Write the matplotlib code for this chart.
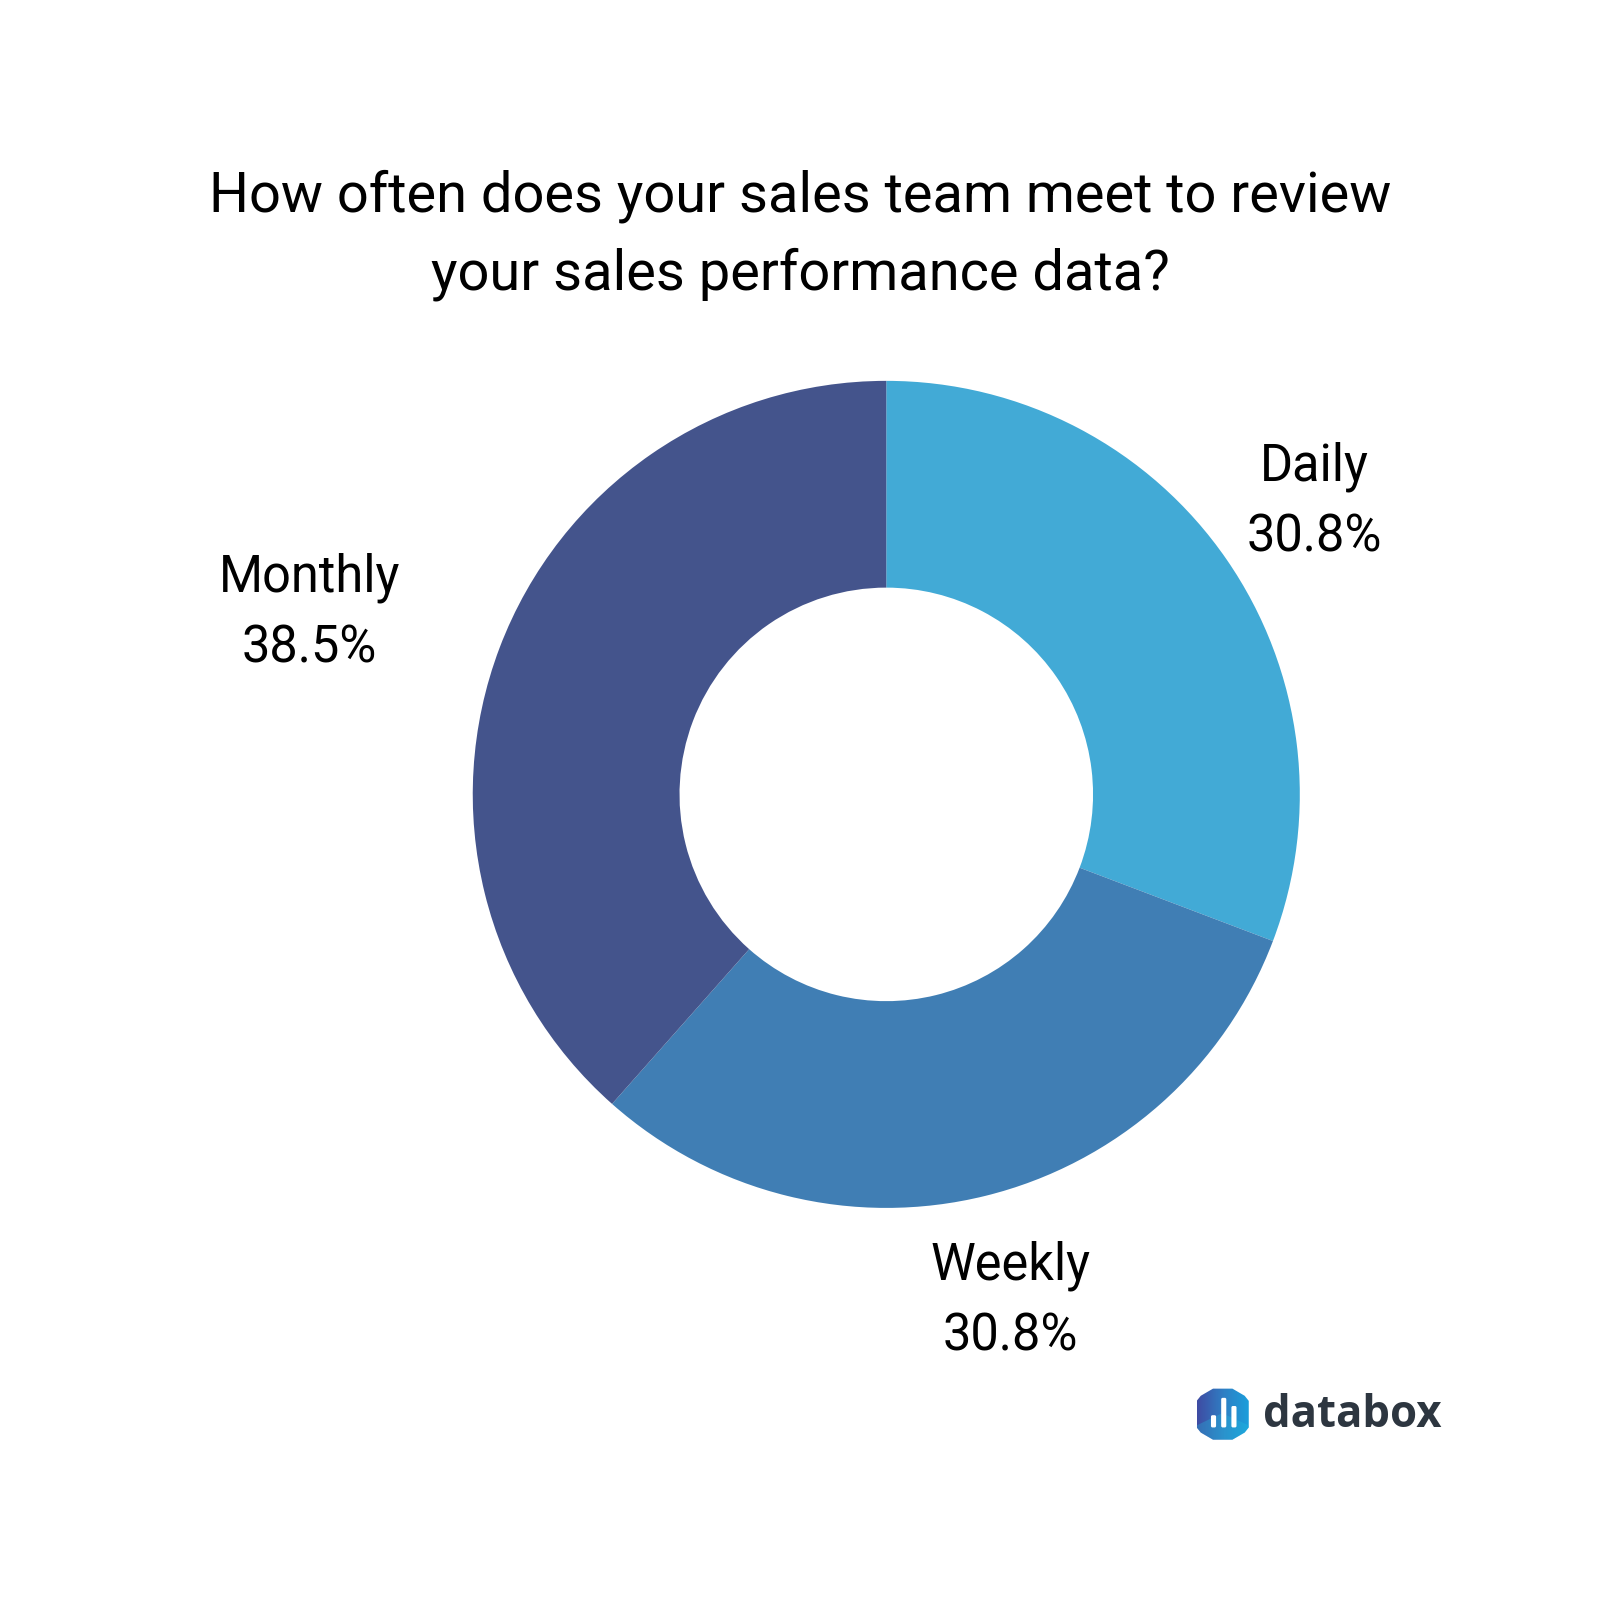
import matplotlib
matplotlib.use("Agg")
import matplotlib.pyplot as plt
from matplotlib.colors import LinearSegmentedColormap
from matplotlib.patches import Polygon, FancyBboxPatch
import numpy as np

plt.rcParams['font.family'] = ['Roboto', 'DejaVu Sans']

#values
categories = ["Daily", "Weekly", "Monthly"]
values = [30.8, 30.8, 38.5]
colors = ["#42aad6", "#407eb4", "#44548c"]
title = "How often does your sales team meet to review\nyour sales performance data?"

fig = plt.figure(figsize=(16, 16), dpi=100)
W, H = 1600, 1600

#full figure axes in reference pixels for text and logo
bg = fig.add_axes([0, 0, 1, 1])
bg.set_xlim(0, W)
bg.set_ylim(H, 0)
bg.axis("off")

#donut, centre about (868,778), outer radius about 405 in a 1567 wide picture
scale = W / 1567.0
cx, cy, r = 868 * scale, 778 * scale, 405 * scale
ax = fig.add_axes([(cx - r) / W, 1 - (cy + r) / H, 2 * r / W, 2 * r / H])
ax.pie(values, colors=colors, startangle=90, counterclock=False, radius=1,
       wedgeprops=dict(width=0.5, linewidth=0))
ax.set_xlim(-1, 1)
ax.set_ylim(-1, 1)
ax.set_aspect("equal")

bg.text(784 * scale, 230.5 * scale, title, ha="center", va="center", fontsize=40.3,
        color="black", linespacing=1.58)

label_pos = [(1287, 491.5), (989.5, 1274.5), (303, 600.5)]
for name, val, pos in zip(categories, values, label_pos):
    bg.text(pos[0] * scale, pos[1] * scale, name + "\n" + str(val) + "%", ha="center", va="center",
            fontsize=36.4, color="black", linespacing=1.53)

#databox logo, hexagon with a left to right gradient
hex_pts = [(1188, 1360), (1207, 1360), (1219, 1367), (1223, 1372), (1223, 1398), (1219, 1403), (1207, 1410),
           (1188, 1410), (1176, 1403), (1172, 1398), (1172, 1372), (1176, 1367)]
hex_patch = Polygon([(x * scale, y * scale) for x, y in hex_pts], closed=True,
                    facecolor="none", edgecolor="none")
bg.add_patch(hex_patch)
logo_cmap = LinearSegmentedColormap.from_list("logo", ["#3f4ba3", "#2f7fc4", "#1a9fdc"])
grad = bg.imshow(np.linspace(0, 1, 64).reshape(1, -1), cmap=logo_cmap, aspect="auto",
                 extent=(1172 * scale, 1223 * scale, 1410 * scale, 1360 * scale), zorder=2)
grad.set_clip_path(hex_patch)
#lighter chevron at the bottom of the hexagon
chevron = Polygon([(x * scale, y * scale) for x, y in [(1172, 1396), (1197, 1384), (1223, 1396), (1223, 1410), (1172, 1410)]],
                  closed=True, facecolor="#22c0e0", alpha=0.3, edgecolor="none", zorder=2.5)
bg.add_patch(chevron)
chevron.set_clip_path(hex_patch)
bg.set_xlim(0, W)
bg.set_ylim(H, 0)
for x, y, h in [(1186, 1386, 12), (1196, 1369, 29), (1206, 1377, 21)]:
    bg.add_patch(FancyBboxPatch((x * scale, y * scale), 5 * scale, h * scale, boxstyle="round,pad=0,rounding_size=1.5",
                                facecolor="white", edgecolor="none", zorder=3))
bg.text(1324.5 * scale, 1386.5 * scale, "databox", ha="center", va="center", fontsize=31.5,
        family="Open Sans", fontweight="bold", color="#2d3640")

fig.savefig("out.png", dpi=100, facecolor="white")
